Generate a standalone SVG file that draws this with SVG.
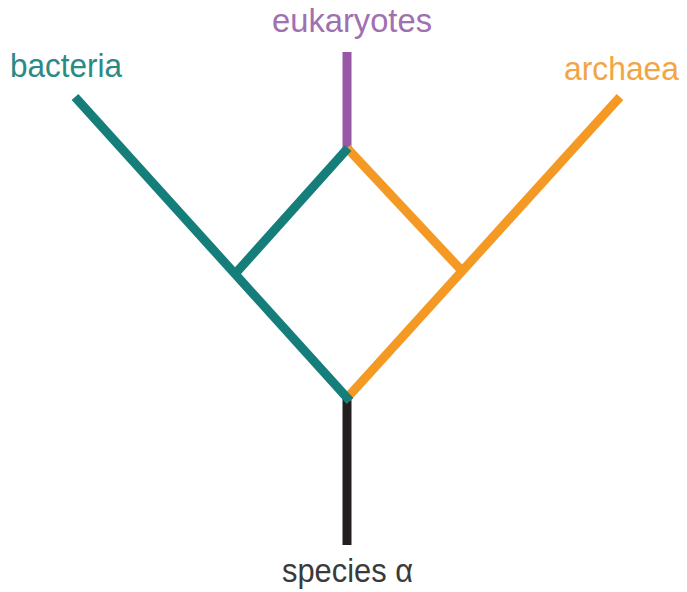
<svg xmlns="http://www.w3.org/2000/svg" width="687" height="592" viewBox="0 0 687 592">
<style>
.l{fill:none;stroke-width:9;stroke-linecap:butt;stroke-linejoin:miter}
.t{font-family:"Liberation Sans",Arial,sans-serif;font-size:34px}
.teal{stroke:#167e7a}.orange{stroke:#f49a24}.purple{stroke:#9a56a6}.black{stroke:#231f20}
</style>
<rect width="687" height="592" fill="#fff"/>
<g id="connectors">
<line class="l purple" x1="347" y1="52" x2="347" y2="150"/>
<line class="l black" x1="347" y1="396" x2="347" y2="545"/>
<line class="l orange" x1="347" y1="148" x2="463" y2="272"/>
<line class="l orange" x1="347" y1="398" x2="620" y2="97"/>
<line class="l teal" x1="235" y1="274" x2="348" y2="148"/>
<line class="l teal" x1="350" y1="401" x2="75" y2="97"/>
</g>
<g id="bacteria"><text class="t" x="10" y="77" fill="#2a8a85" textLength="112" lengthAdjust="spacingAndGlyphs">bacteria</text></g>
<g id="eukaryotes"><text class="t" x="272" y="32" fill="#a070b0" textLength="160" lengthAdjust="spacingAndGlyphs">eukaryotes</text></g>
<g id="archaea"><text class="t" x="564" y="80" fill="#f2a544" textLength="115" lengthAdjust="spacingAndGlyphs">archaea</text></g>
<g id="species"><text class="t" x="282" y="582" fill="#3a3a3a" textLength="131" lengthAdjust="spacingAndGlyphs">species α</text></g>
</svg>
